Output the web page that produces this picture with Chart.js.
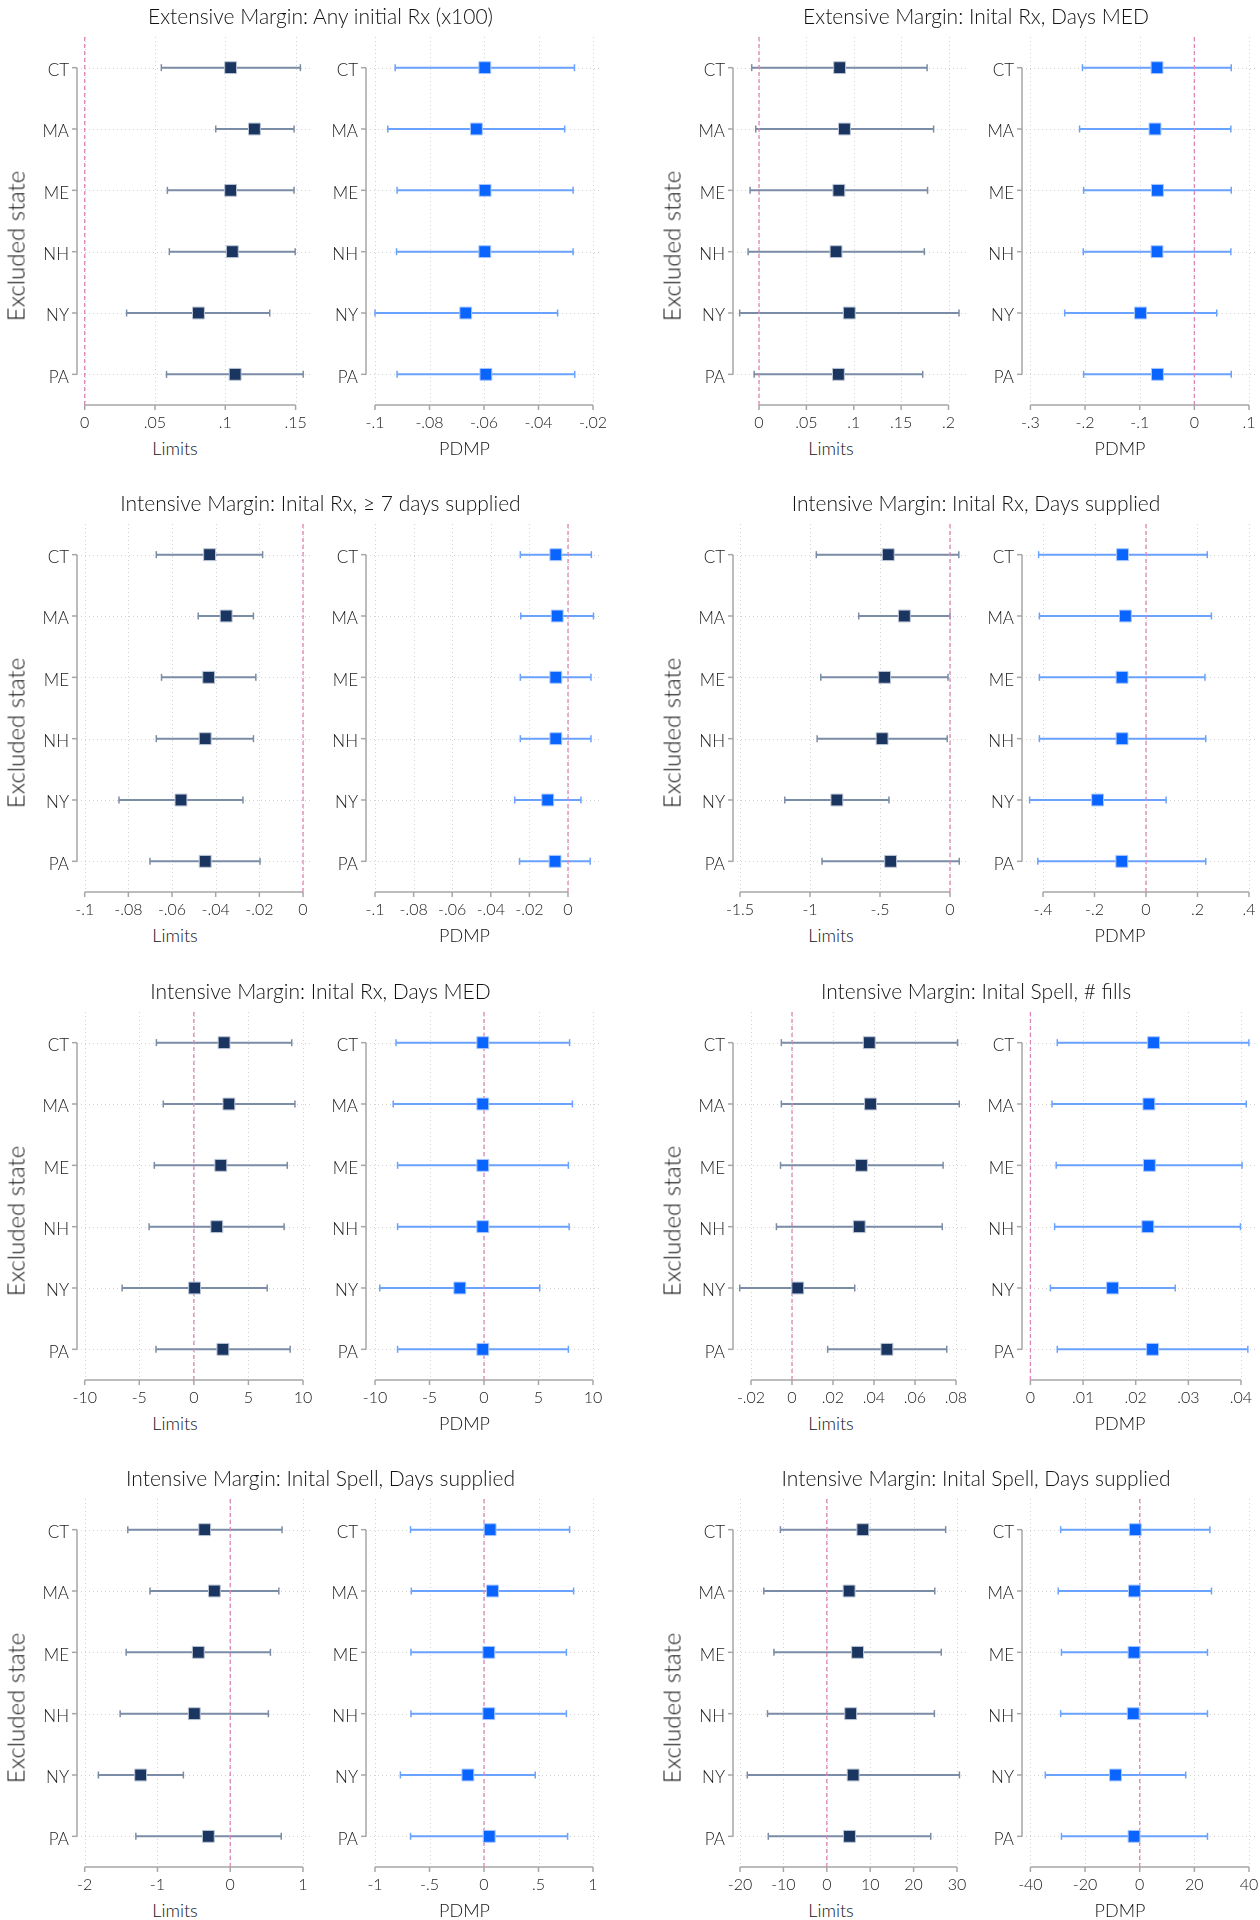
<!DOCTYPE html>
<html>
<head>
<meta charset="utf-8">
<title>Leave-one-state-out estimates</title>
<script src="https://cdn.jsdelivr.net/npm/chart.js@4.4.1/dist/chart.umd.min.js"></script>
<style>
  body { margin: 0; background: #fff; font-family: Lato, sans-serif; font-weight: 300; }
  #wrap { position: relative; width: 1260px; height: 1920px; overflow: hidden; }
  #wrap canvas { position: absolute; }
  .txt { position: absolute; white-space: nowrap; color: #111; transform: translate(-50%, -50%); }
  .ttl { font-size: 21px; }
  .axt { font-size: 18px; }
  .ylab { font-size: 24px; transform: translate(-50%, -50%) rotate(-90deg); }
</style>
</head>
<body>
<div id="wrap"></div>
<script>
// Excluded states (rows, top to bottom)
const states = ['CT', 'MA', 'ME', 'NH', 'NY', 'PA'];

const titles = [
  'Extensive Margin: Any initial Rx (x100)',
  'Extensive Margin: Inital Rx, Days MED',
  'Intensive Margin: Inital Rx, \u2265 7 days supplied',
  'Intensive Margin: Inital Rx, Days supplied',
  'Intensive Margin: Inital Rx, Days MED',
  'Intensive Margin: Inital Spell, # fills',
  'Intensive Margin: Inital Spell, Days supplied',
  'Intensive Margin: Inital Spell, Days supplied',
];

// Panel 1
const p1LimEst = [0.1038, 0.1207, 0.1038, 0.1050, 0.0809, 0.1070];
const p1LimLo = [0.0545, 0.0932, 0.0588, 0.0602, 0.0298, 0.0582];
const p1LimHi = [0.1534, 0.1489, 0.1489, 0.1497, 0.1316, 0.1554];
const p1LimTicks = [0, 0.05, 0.1, 0.15];
const p1PdmpEst = [-0.0597, -0.0628, -0.0596, -0.0597, -0.0667, -0.0593];
const p1PdmpLo = [-0.0926, -0.0953, -0.0919, -0.0921, -0.1000, -0.0919];
const p1PdmpHi = [-0.0268, -0.0304, -0.0273, -0.0273, -0.0330, -0.0267];
const p1PdmpTicks = [-0.1, -0.08, -0.06, -0.04, -0.02];

// Panel 2
const p2LimEst = [0.0851, 0.0902, 0.0843, 0.0813, 0.0953, 0.0838];
const p2LimLo = [-0.0077, -0.0034, -0.0094, -0.0115, -0.0204, -0.0051];
const p2LimHi = [0.1774, 0.1843, 0.1779, 0.1745, 0.2111, 0.1728];
const p2LimTicks = [0, 0.05, 0.1, 0.15, 0.2];
const p2PdmpEst = [-0.0683, -0.0720, -0.0675, -0.0683, -0.0985, -0.0675];
const p2PdmpLo = [-0.2048, -0.2100, -0.2026, -0.2033, -0.2373, -0.2026];
const p2PdmpHi = [0.0675, 0.0668, 0.0675, 0.0668, 0.0410, 0.0675];
const p2PdmpTicks = [-0.3, -0.2, -0.1, 0, 0.1];

// Panel 3
const p3LimEst = [-0.0428, -0.0352, -0.0432, -0.0448, -0.0559, -0.0448];
const p3LimLo = [-0.0672, -0.0480, -0.0648, -0.0672, -0.0843, -0.0701];
const p3LimHi = [-0.0185, -0.0227, -0.0216, -0.0227, -0.0275, -0.0197];
const p3LimTicks = [-0.1, -0.08, -0.06, -0.04, -0.02, 0];
const p3PdmpEst = [-0.0063, -0.0056, -0.0063, -0.0063, -0.0105, -0.0067];
const p3PdmpLo = [-0.0247, -0.0245, -0.0247, -0.0247, -0.0276, -0.0251];
const p3PdmpHi = [0.0121, 0.0132, 0.0119, 0.0119, 0.0067, 0.0115];
const p3PdmpTicks = [-0.1, -0.08, -0.06, -0.04, -0.02, 0];

// Panel 4
const p4LimEst = [-0.441, -0.326, -0.467, -0.485, -0.808, -0.424];
const p4LimLo = [-0.955, -0.652, -0.923, -0.949, -1.180, -0.914];
const p4LimHi = [0.063, 0.000, -0.014, -0.020, -0.436, 0.066];
const p4LimTicks = [-1.5, -1, -0.5, 0];
const p4PdmpEst = [-0.091, -0.080, -0.093, -0.093, -0.188, -0.094];
const p4PdmpLo = [-0.417, -0.414, -0.414, -0.414, -0.452, -0.420];
const p4PdmpHi = [0.238, 0.254, 0.229, 0.232, 0.078, 0.232];
const p4PdmpTicks = [-0.4, -0.2, 0, 0.2, 0.4];

// Panel 5
const p5LimEst = [2.77, 3.21, 2.47, 2.10, 0.07, 2.66];
const p5LimLo = [-3.43, -2.80, -3.62, -4.10, -6.57, -3.47];
const p5LimHi = [8.97, 9.26, 8.56, 8.27, 6.72, 8.82];
const p5LimTicks = [-10, -5, 0, 5, 10];
const p5PdmpEst = [-0.11, -0.11, -0.11, -0.11, -2.22, -0.11];
const p5PdmpLo = [-8.07, -8.33, -7.93, -7.93, -9.56, -7.93];
const p5PdmpHi = [7.85, 8.11, 7.74, 7.81, 5.11, 7.74];
const p5PdmpTicks = [-10, -5, 0, 5, 10];

// Panel 6
const p6LimEst = [0.0377, 0.0383, 0.0339, 0.0328, 0.0028, 0.0463];
const p6LimLo = [-0.0052, -0.0052, -0.0056, -0.0076, -0.0255, 0.0174];
const p6LimHi = [0.0808, 0.0816, 0.0737, 0.0733, 0.0306, 0.0755];
const p6LimTicks = [-0.02, 0, 0.02, 0.04, 0.06, 0.08];
const p6PdmpEst = [0.0234, 0.0225, 0.0226, 0.0223, 0.0156, 0.0232];
const p6PdmpLo = [0.0051, 0.0041, 0.0049, 0.0046, 0.0038, 0.0051];
const p6PdmpHi = [0.0415, 0.0410, 0.0402, 0.0399, 0.0275, 0.0413];
const p6PdmpTicks = [0, 0.01, 0.02, 0.03, 0.04];

// Panel 7
const p7LimEst = [-0.351, -0.218, -0.439, -0.494, -1.231, -0.301];
const p7LimLo = [-1.408, -1.103, -1.430, -1.513, -1.812, -1.297];
const p7LimHi = [0.712, 0.668, 0.552, 0.524, -0.644, 0.701];
const p7LimTicks = [-2, -1, 0, 1];
const p7PdmpEst = [0.056, 0.078, 0.044, 0.044, -0.148, 0.048];
const p7PdmpLo = [-0.674, -0.667, -0.670, -0.670, -0.767, -0.674];
const p7PdmpHi = [0.785, 0.822, 0.756, 0.756, 0.470, 0.767];
const p7PdmpTicks = [-1, -0.5, 0, 0.5, 1];

// Panel 8
const p8LimEst = [8.31, 5.14, 7.09, 5.51, 6.07, 5.23];
const p8LimLo = [-10.69, -14.51, -12.18, -13.67, -18.32, -13.48];
const p8LimHi = [27.39, 24.88, 26.37, 24.79, 30.56, 23.95];
const p8LimTicks = [-20, -10, 0, 10, 20, 30];
const p8PdmpEst = [-1.62, -1.92, -2.07, -2.36, -8.86, -2.07];
const p8PdmpLo = [-28.93, -29.82, -28.63, -28.93, -34.54, -28.63];
const p8PdmpHi = [25.68, 26.27, 24.80, 24.80, 16.83, 24.80];
const p8PdmpTicks = [-40, -20, 0, 20, 40];

// Styles
const LIM_STYLE = { fill: '#1a3560', edge: '#bcc6d5', ci: '#7b8ca6' };
const PDMP_STYLE = { fill: '#0a64ff', edge: '#a9c7ff', ci: '#6aa2ff' };
const GRID = '#d2d2d2';
const AXIS = '#a6a6a6';
const ZERO = '#de86b6';
const FONT_W = '300';
const TXT = '#1a1a1a';

// Layout (pixels)
const rowCT = [67.7, 555, 1043, 1530];
const STEP = 61.25;
const cols = [
  { yax: [77, 366], right: [310, 601], titleX: 320.5, limX: 175, pdmpX: 464.5, ylabX: 15 },
  { yax: [733, 1022], right: [967, 1258], titleX: 976, limX: 831, pdmpX: 1120, ylabX: 671 },
];
// where the first and last tick of each axis sit
const tickPx = [
  [[84.7, 295.6], [375, 593]],
  [[759, 948.5], [1030.4, 1249]],
  [[84.7, 303], [375, 568]],
  [[740, 950], [1043, 1249]],
  [[84.7, 303], [375, 593]],
  [[751, 956], [1030.4, 1241]],
  [[84.7, 303], [375, 593]],
  [[740, 957], [1030.4, 1249]],
];

const panels = [
  [[p1LimEst, p1LimLo, p1LimHi, p1LimTicks], [p1PdmpEst, p1PdmpLo, p1PdmpHi, p1PdmpTicks]],
  [[p2LimEst, p2LimLo, p2LimHi, p2LimTicks], [p2PdmpEst, p2PdmpLo, p2PdmpHi, p2PdmpTicks]],
  [[p3LimEst, p3LimLo, p3LimHi, p3LimTicks], [p3PdmpEst, p3PdmpLo, p3PdmpHi, p3PdmpTicks]],
  [[p4LimEst, p4LimLo, p4LimHi, p4LimTicks], [p4PdmpEst, p4PdmpLo, p4PdmpHi, p4PdmpTicks]],
  [[p5LimEst, p5LimLo, p5LimHi, p5LimTicks], [p5PdmpEst, p5PdmpLo, p5PdmpHi, p5PdmpTicks]],
  [[p6LimEst, p6LimLo, p6LimHi, p6LimTicks], [p6PdmpEst, p6PdmpLo, p6PdmpHi, p6PdmpTicks]],
  [[p7LimEst, p7LimLo, p7LimHi, p7LimTicks], [p7PdmpEst, p7PdmpLo, p7PdmpHi, p7PdmpTicks]],
  [[p8LimEst, p8LimLo, p8LimHi, p8LimTicks], [p8PdmpEst, p8PdmpLo, p8PdmpHi, p8PdmpTicks]],
];

// Stata-like number format: .05, -.1, 0
function fmt(v) {
  const s = String(+(+v).toFixed(6));
  return s.replace(/^(-?)0\./, '$1.');
}

// gridlines, axis lines, zero line and CI whiskers, drawn from the scales
const coefPlugin = {
  id: 'coef',
  beforeDatasetsDraw(chart, args, opts) {
    const { ctx, chartArea: a } = chart;
    const xs = chart.scales.x, ys = chart.scales.y;
    const ticks = opts.ticks;
    ctx.save();
    // dotted grid
    ctx.strokeStyle = GRID;
    ctx.lineWidth = 1;
    ctx.setLineDash([1, 3]);
    states.forEach((_, i) => {
      const y = Math.round(ys.getPixelForValue(i)) + 0.5;
      ctx.beginPath(); ctx.moveTo(a.left, y); ctx.lineTo(a.right, y); ctx.stroke();
    });
    ticks.forEach(v => {
      const x = Math.round(xs.getPixelForValue(v)) + 0.5;
      ctx.beginPath(); ctx.moveTo(x, a.top); ctx.lineTo(x, a.bottom); ctx.stroke();
    });
    ctx.setLineDash([]);
    // axes
    ctx.strokeStyle = AXIS;
    ctx.lineWidth = 1.5;
    const x0 = xs.getPixelForValue(ticks[0]);
    const x1 = xs.getPixelForValue(ticks[ticks.length - 1]);
    ctx.beginPath(); ctx.moveTo(x0, a.bottom); ctx.lineTo(x1, a.bottom); ctx.stroke();
    ticks.forEach(v => {
      const x = xs.getPixelForValue(v);
      ctx.beginPath(); ctx.moveTo(x, a.bottom); ctx.lineTo(x, a.bottom + 5); ctx.stroke();
    });
    const y0 = ys.getPixelForValue(0), y1 = ys.getPixelForValue(states.length - 1);
    ctx.beginPath(); ctx.moveTo(a.left, y0); ctx.lineTo(a.left, y1); ctx.stroke();
    states.forEach((_, i) => {
      const y = ys.getPixelForValue(i);
      ctx.beginPath(); ctx.moveTo(a.left - 5, y); ctx.lineTo(a.left, y); ctx.stroke();
    });
    // confidence intervals
    ctx.strokeStyle = opts.color;
    ctx.lineWidth = 2;
    opts.lo.forEach((lo, i) => {
      const y = ys.getPixelForValue(i);
      const xl = xs.getPixelForValue(lo), xh = xs.getPixelForValue(opts.hi[i]);
      ctx.beginPath(); ctx.moveTo(xl, y); ctx.lineTo(xh, y); ctx.stroke();
      ctx.lineWidth = 1.5;
      ctx.beginPath(); ctx.moveTo(xl, y - 3.5); ctx.lineTo(xl, y + 3.5); ctx.stroke();
      ctx.beginPath(); ctx.moveTo(xh, y - 3.5); ctx.lineTo(xh, y + 3.5); ctx.stroke();
      ctx.lineWidth = 2;
    });
    // reference line at zero
    if (xs.min <= 0 && xs.max >= 0) {
      const xz = xs.getPixelForValue(0);
      ctx.strokeStyle = ZERO;
      ctx.lineWidth = 1.3;
      ctx.setLineDash([4, 3]);
      ctx.beginPath(); ctx.moveTo(xz, a.top); ctx.lineTo(xz, a.bottom); ctx.stroke();
    }
    ctx.restore();
  }
};

const wrap = document.getElementById('wrap');

function addText(cls, text, x, y) {
  const d = document.createElement('div');
  d.className = 'txt ' + cls;
  d.textContent = text;
  d.style.left = x + 'px';
  d.style.top = y + 'px';
  wrap.appendChild(d);
}

function makeSub(row, yaxis, right, tpx, series, style) {
  const [est, lo, hi, ticks] = series;
  const padTop = 16, padRight = 30, labelW = 75, axisH = 32;
  const top = Math.round(rowCT[row] - STEP / 2) - padTop;
  const left = yaxis - labelW;
  const width = right - left + padRight;
  const height = padTop + Math.round(STEP * states.length) + axisH;
  const slope = (tpx[1] - tpx[0]) / (ticks[ticks.length - 1] - ticks[0]);
  const xmin = ticks[0] - (tpx[0] - yaxis) / slope;
  const xmax = ticks[ticks.length - 1] + (right - tpx[1]) / slope;

  const canvas = document.createElement('canvas');
  canvas.width = width;
  canvas.height = height;
  canvas.style.left = left + 'px';
  canvas.style.top = top + 'px';
  canvas.style.width = width + 'px';
  canvas.style.height = height + 'px';
  wrap.appendChild(canvas);

  new Chart(canvas, {
    type: 'scatter',
    data: {
      datasets: [{
        data: est.map((v, i) => ({ x: v, y: i })),
        pointStyle: 'rect',
        pointRadius: 8.4,
        pointHoverRadius: 8.4,
        backgroundColor: style.fill,
        borderColor: style.edge,
        borderWidth: 1,
      }],
    },
    options: {
      responsive: false,
      animation: false,
      devicePixelRatio: 1,
      events: [],
      layout: { padding: { top: padTop, right: padRight, left: 0, bottom: 0 } },
      plugins: {
        legend: { display: false },
        tooltip: { enabled: false },
        coef: { lo: lo, hi: hi, ticks: ticks, color: style.ci },
      },
      scales: {
        x: {
          type: 'linear',
          min: xmin,
          max: xmax,
          afterBuildTicks: s => { s.ticks = ticks.map(v => ({ value: v })); },
          afterFit: s => { s.height = axisH; },
          grid: { display: false, drawTicks: true, tickLength: 5 },
          border: { display: false },
          ticks: {
            callback: v => fmt(v),
            font: { family: 'Lato', size: 16, weight: FONT_W },
            color: TXT,
            padding: 3,
            maxRotation: 0,
            autoSkip: false,
          },
        },
        y: {
          type: 'linear',
          min: -0.5,
          max: states.length - 0.5,
          reverse: true,
          afterBuildTicks: s => { s.ticks = states.map((_, i) => ({ value: i })); },
          afterFit: s => { s.width = labelW; },
          grid: { display: false, drawTicks: true, tickLength: 5 },
          border: { display: false },
          ticks: {
            callback: v => states[v],
            font: { family: 'Lato', size: 17, weight: FONT_W },
            color: TXT,
            padding: 3,
            labelOffset: 3,
            autoSkip: false,
          },
        },
      },
    },
    plugins: [coefPlugin],
  });
}

function build() {
  panels.forEach((pan, p) => {
    const row = Math.floor(p / 2), c = cols[p % 2];
    const ct = rowCT[row];
    const axisY = ct + STEP * (states.length - 0.5);
    makeSub(row, c.yax[0], c.right[0], tickPx[p][0], pan[0], LIM_STYLE);
    makeSub(row, c.yax[1], c.right[1], tickPx[p][1], pan[1], PDMP_STYLE);
    addText('ttl', titles[p], c.titleX, ct - 53);
    addText('axt', 'Limits', c.limX, axisY + 43);
    addText('axt', 'PDMP', c.pdmpX, axisY + 43);
    addText('ylab', 'Excluded state', c.ylabX, ct + 178);
  });
}

if (document.fonts && document.fonts.load) {
  Promise.all([document.fonts.load('300 16px Lato'), document.fonts.load('300 21px Lato')])
    .then(build, build);
} else {
  build();
}
</script>
</body>
</html>
